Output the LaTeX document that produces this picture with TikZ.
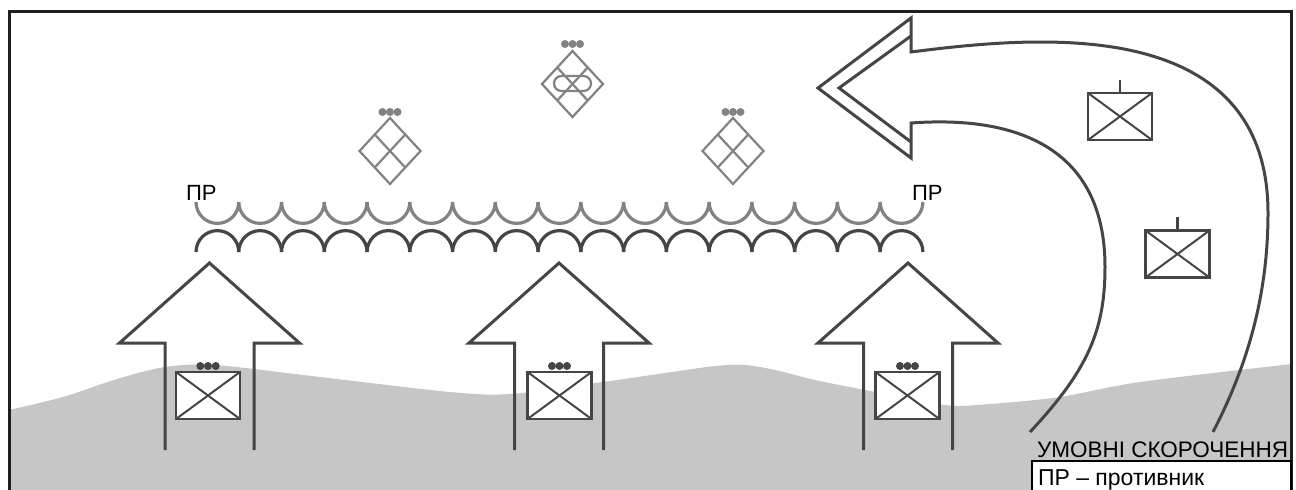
\documentclass[tikz,border=0pt]{standalone}
\usepackage{fontspec}
\setmainfont{Liberation Sans}
\usetikzlibrary{calc}
\definecolor{dk}{HTML}{454545}
\definecolor{gr}{HTML}{828282}
\definecolor{gnd}{HTML}{C6C6C6}
\tikzset{
  armline/.style={draw=dk,line width=3pt,line join=miter},
  chaindk/.style={draw=dk,line width=3.2pt},
  chaingr/.style={draw=gr,line width=3.2pt},
  unitbox/.style={draw=dk,fill=white,line width=2.8pt,minimum width=64pt,minimum height=47pt,inner sep=0pt,outer sep=0pt},
  crossline/.style={draw=dk,line width=2pt},
  diabox/.style={draw=gr,line width=2.2pt},
  dotdk/.style={fill=dk,draw=none},
  dotgr/.style={fill=gr,draw=none},
  lbl/.style={inner sep=0pt,outer sep=0pt,anchor=base west,text=black,font=\fontsize{22}{24}\selectfont},
  legendhead/.style={lbl,font=\fontsize{22.5}{24}\selectfont},
  legendline/.style={lbl,font=\fontsize{23}{24}\selectfont},
  legendbox/.style={draw=black,fill=white,line width=1.8pt,inner sep=0pt,outer sep=0pt,anchor=north west,minimum width=259pt,minimum height=40pt}
}
\newcommand{\unitcross}[3]{%
  \node[unitbox] (#1) at (#2,#3) {};
  \draw[crossline] (#1.north west) -- (#1.south east);
  \draw[crossline] (#1.north east) -- (#1.south west);
}
\newcommand{\threedots}[4]{% style, x, y, gap
  \foreach \k in {-1,0,1} {\fill[#1] ({#2+\k*#4},#3) circle[radius=4pt];}
}
\newcommand{\upArrow}[1]{%
  \draw[armline] (#1-44.5,450) -- (#1-44.5,343) -- (#1-90,343) -- (#1,263) -- (#1+90,343) -- (#1+44.5,343) -- (#1+44.5,450);
}
\newcommand{\diamondcross}[3]{%
  \coordinate (#1t) at (#2,#3-33);
  \coordinate (#1b) at (#2,#3+33);
  \coordinate (#1l) at (#2-30.5,#3);
  \coordinate (#1r) at (#2+30.5,#3);
  \draw[diabox] (#1t) -- (#1r) -- (#1b) -- (#1l) -- cycle;
  \draw[diabox] ($(#1t)!.5!(#1l)$) -- ($(#1b)!.5!(#1r)$);
  \draw[diabox] ($(#1t)!.5!(#1r)$) -- ($(#1b)!.5!(#1l)$);
}
\begin{document}
\begin{tikzpicture}[x=1pt,y=-1pt]
\clip (0,0) rectangle (1296,490);
\fill[white] (0,0) rectangle (1296,490);
% ground
\fill[gnd] plot[smooth,tension=.5] coordinates {(9,410) (63,397) (117,379) (165,367) (215,365) (320,377) (450,392) (510,394) (603,382) (665,373) (715,366) (745,365) (775,370) (815,380) (860,389) (945,405) (990,404) (1060,397) (1140,382) (1292,364)} -- (1292,495) -- (9,495) -- cycle;
% chains
\foreach \i in {0,...,16} {
  \draw[chaingr] ({196+\i*42.76},202) arc[start angle=180,end angle=360,radius=21.38pt];
  \draw[chaindk] ({196+\i*42.76},252) arc[start angle=180,end angle=0,radius=21.38pt];
}
% upward arrows
\upArrow{209.5}
\upArrow{559}
\upArrow{908}
% units
\unitcross{ua}{208}{395.5}
\unitcross{ub}{559.5}{395.5}
\unitcross{uc}{907.5}{395.5}
\threedots{dotdk}{208}{366}{7.7}
\threedots{dotdk}{559.5}{366}{7.5}
\threedots{dotdk}{907.5}{366}{7.5}
% diamonds
\diamondcross{da}{390}{151}
\diamondcross{dc}{733}{151}
\diamondcross{db}{572.5}{84}
\draw[diabox,rounded corners=7.4pt] (554,76) rectangle (591,91);
\threedots{dotgr}{390}{112}{7.5}
\threedots{dotgr}{733}{112}{7.5}
\threedots{dotgr}{572.5}{44}{7.5}
% big curved arrow
\draw[armline] (1213,432) .. controls (1245,370) and (1268,300) .. (1268,213) .. controls (1268,60) and (1130,42) .. (1040,42) .. controls (995,42) and (950,47) .. (911,52) -- (911,18) -- (818,88) -- (911,158) -- (911,123) .. controls (1020,115) and (1105,150) .. (1105,267) .. controls (1105,330) and (1088,370) .. (1030,432);
\draw[armline] (911,36) -- (839,88) -- (911,142);
% right units
\unitcross{ud}{1120}{116.5}
\unitcross{ue}{1177.5}{254}
\coordinate (tickd) at (1120,80);
\coordinate (ticke) at (1177.5,217);
\draw[crossline,line width=2.4pt] (ud.north) -- (tickd);
\draw[crossline,line width=2.4pt] (ue.north) -- (ticke);
% frame
\draw[draw=black!88,line width=3pt] (9,500) -- (9,11) -- (1291,11) -- (1291,500);
% labels
\node[lbl] (pl) at (186,200) {ПР};
\node[lbl] (pr) at (912,200) {ПР};
\node[legendhead] (legt) at (1037,457) {УМОВНІ СКОРОЧЕННЯ};
\node[legendbox] (legb) at (1032,461) {};
\node[legendline] (legl) at (1038,485) {ПР – противник};
\end{tikzpicture}
\end{document}
